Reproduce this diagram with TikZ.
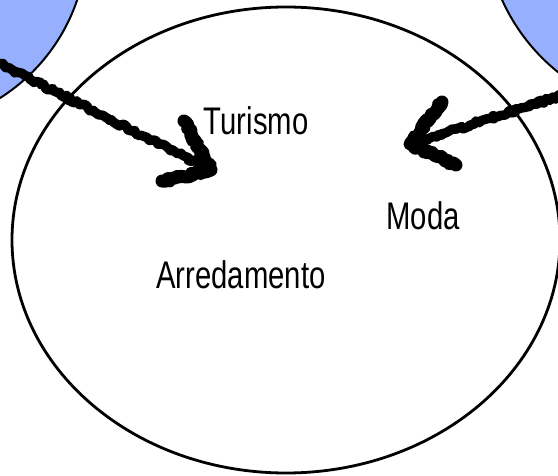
\documentclass[tikz,border=0pt]{standalone}
\usepackage{fontspec}
\setmainfont{Liberation Sans}[FakeStretch=0.76]
\usetikzlibrary{decorations.pathmorphing}

\definecolor{periwinkle}{RGB}{150,176,255}

\tikzset{
    sector/.style={draw=black,line width=2pt,fill=periwinkle},
    brush/.style={line width=9.5pt,line cap=round,line join=round,
        decorate,decoration={random steps,segment length=2.5pt,amplitude=1.8pt}},
    brushhead/.style={brush,line width=13pt},
    word/.style={font=\fontsize{38.5}{44}\selectfont,inner sep=0pt,anchor=base}
}

\begin{document}
\begin{tikzpicture}[x=1pt,y=-1pt]
    \useasboundingbox (0,0) rectangle (558,476);
    \clip (0,0) rectangle (558,476);
    \pgfmathsetseed{7}

    % neighbouring sectors, only partly in view
    \draw[sector] (-100,-60) circle[radius=187];
    \draw[sector] (680,-80) circle[radius=195];

    % the sector itself
    \draw[line width=2.8pt] (286,240) ellipse[x radius=274,y radius=233];

    \node[word] (turismo) at (256,135) {Turismo};
    \node[word] (moda) at (423,230) {Moda};
    \node[word] (arred) at (241,289) {Arredamento};

    \coordinate (west) at (-8,60);
    \coordinate (westtip) at (211,170);
    \coordinate (westbarbup) at (184,121);
    \coordinate (westbarblow) at (162,181);

    \coordinate (east) at (566,94);
    \coordinate (easttip) at (410,144);
    \coordinate (eastbarbup) at (442,102);
    \coordinate (eastbarblow) at (456,165);

    \draw[brush] (west) -- (westtip);
    \draw[brushhead] (westbarbup) -- (westtip) -- (westbarblow);
    \draw[brush] (east) -- (easttip);
    \draw[brushhead] (eastbarbup) -- (easttip) -- (eastbarblow);
\end{tikzpicture}
\end{document}
